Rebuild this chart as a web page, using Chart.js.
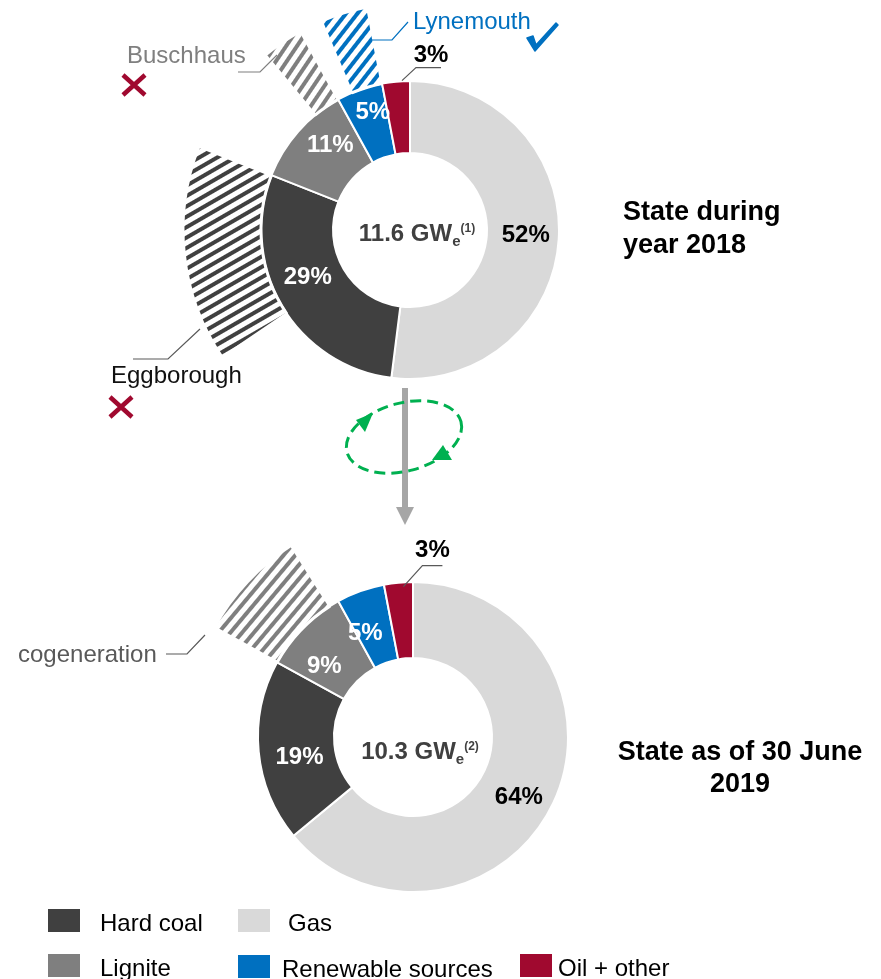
<!DOCTYPE html>
<html>
<head>
<meta charset="utf-8">
<script src="https://cdn.jsdelivr.net/npm/chart.js@4.4.1/dist/chart.umd.min.js"></script>
<style>
  body { margin: 0; background: #fff; }
  #page { position: relative; width: 881px; height: 979px; overflow: hidden; }
  canvas { position: absolute; left: 0; }
  #chart2018 { top: 0; }
  #chart2019 { top: 470px; }
  #overlay { position: absolute; left: 0; top: 0; pointer-events: none; }
  #overlay text { font-family: "Liberation Sans", Arial, sans-serif; }
</style>
</head>
<body>
<div id="page">
  <canvas id="chart2018" width="881" height="470"></canvas>
  <canvas id="chart2019" width="881" height="470"></canvas>
  <svg id="overlay" width="881" height="979" xmlns="http://www.w3.org/2000/svg">
    <!-- titles -->
    <text x="623" y="220" font-size="27" font-weight="bold">State during</text>
    <text x="623" y="253" font-size="27" font-weight="bold">year 2018</text>
    <text x="740" y="760" font-size="27" font-weight="bold" text-anchor="middle">State as of 30 June</text>
    <text x="740" y="792" font-size="27" font-weight="bold" text-anchor="middle">2019</text>

    <!-- plant callouts, 2018 -->
    <text x="127" y="63" font-size="24" fill="#7f7f7f">Buschhaus</text>
    <polyline points="238,72 260,72 277,55" fill="none" stroke="#7f7f7f" stroke-width="1.2"/>
    <path d="M123,75 L145,95 M145,75 L123,95" stroke="#a0092f" stroke-width="4.5"/>

    <text x="413" y="29" font-size="24" fill="#0070c0">Lynemouth</text>
    <polyline points="370,40 392,40 408,22" fill="none" stroke="#0070c0" stroke-width="1.2"/>
    <path d="M527,38 L533,36 L536,45 L556,23 L558,25 L535,51 Z" fill="#0070c0" stroke="#0070c0" stroke-width="1.5" stroke-linejoin="round"/>

    <text x="111" y="383" font-size="24" fill="#111">Eggborough</text>
    <polyline points="133,359 168,359 200,329" fill="none" stroke="#595959" stroke-width="1.2"/>
    <path d="M110,397 L132,417 M132,397 L110,417" stroke="#a0092f" stroke-width="4.5"/>

    <!-- transition arrow -->
    <rect x="402" y="388" width="6" height="120" fill="#a6a6a6"/>
    <polygon points="396,507 414,507 405,525" fill="#a6a6a6"/>
    <ellipse cx="404" cy="437" rx="59" ry="34" transform="rotate(-15 404 437)" fill="none"
             stroke="#00b050" stroke-width="3" stroke-dasharray="11 6"/>
    <polygon points="356,420 365,432 373,413" fill="#00b050"/>
    <polygon points="443,445 452,460 432,460" fill="#00b050"/>

    <!-- callout, 2019 -->
    <text x="18" y="662" font-size="24" fill="#595959">cogeneration</text>
    <polyline points="166,654 187,654 205,635" fill="none" stroke="#595959" stroke-width="1.2"/>

    <g id="legend"></g>
  </svg>
</div>

<script>
// Slice order, clockwise from 12 o'clock
const categories = ['Gas', 'Hard coal', 'Lignite', 'Renewable sources', 'Oil + other'];
const colors = ['#d9d9d9', '#404040', '#7f7f7f', '#0070c0', '#a0092f'];

// State during year 2018 (% of capacity)
const shares2018 = [52, 29, 11, 5, 3];
// part of each slice hatched on the outer ring (Eggborough, Buschhaus, Lynemouth)
const hatched2018 = [0, 15.5, 3, 3.4, 0];
const total2018 = '11.6';
const note2018 = '(1)';

// State as of 30 June 2019
const shares2019 = [64, 19, 9, 5, 3];
const hatched2019 = [0, 0, 8, 0, 0]; // cogeneration
const total2019 = '10.3';
const note2019 = '(2)';

// Legend order as laid out under the charts
const legendOrder = ['Hard coal', 'Gas', 'Lignite', 'Renewable sources', 'Oil + other'];

const FONT = '"Liberation Sans", Arial, sans-serif';
const NONE = 'rgba(0,0,0,0)';

// Striped fill for the hatched outer ring
function stripes(color, angle) {
  const tile = document.createElement('canvas');
  tile.width = 16;
  tile.height = 9;
  const t = tile.getContext('2d');
  t.fillStyle = color;
  t.fillRect(0, 0, 16, 4);
  const p = t.createPattern(tile, 'repeat');
  p.setTransform(new DOMMatrix().rotate(-angle));
  return p;
}

// Outer ring: each slice is split into a blank part and a hatched part
// (hatch at the end of the slice, or at its start when hatchFirst is set)
function outerRing(shares, hatched, angles, hatchFirst) {
  const data = [], bg = [], bw = [];
  shares.forEach((s, i) => {
    const blank = [s - hatched[i], NONE, 0];
    const hatch = [hatched[i], hatched[i] ? stripes(colors[i], angles[i]) : NONE, hatched[i] ? 3 : 0];
    const parts = hatchFirst ? [hatch, blank] : [blank, hatch];
    parts.forEach(([v, c, w]) => { data.push(v); bg.push(c); bw.push(w); });
  });
  return { data, backgroundColor: bg, borderColor: '#fff', borderWidth: bw };
}

// Percent labels + centre total
const sliceLabels = {
  id: 'sliceLabels',
  afterDatasetsDraw(chart, args, o) {
    const ctx = chart.ctx;
    const meta = chart.getDatasetMeta(1);
    const shares = chart.data.datasets[1].data;
    ctx.save();
    ctx.font = 'bold 24px ' + FONT;
    ctx.textAlign = 'center';
    ctx.textBaseline = 'middle';
    let cx = 0, cy = 0;
    meta.data.forEach((arc, i) => {
      const p = arc.getProps(['x', 'y', 'startAngle', 'endAngle', 'innerRadius', 'outerRadius'], true);
      cx = p.x; cy = p.y;
      const mid = (p.startAngle + p.endAngle) / 2;
      const txt = shares[i] + '%';
      if (i === o.outside) {
        const x0 = p.x + Math.cos(mid) * p.outerRadius;
        const y0 = p.y + Math.sin(mid) * p.outerRadius;
        const l = o.leader;
        ctx.strokeStyle = '#595959';
        ctx.lineWidth = 1.2;
        ctx.beginPath();
        ctx.moveTo(x0 + l[0], y0 + l[1]);
        ctx.lineTo(x0 + l[2], y0 + l[3]);
        ctx.lineTo(x0 + l[4], y0 + l[3]);
        ctx.stroke();
        ctx.fillStyle = '#000';
        ctx.textBaseline = 'alphabetic';
        ctx.fillText(txt, x0 + l[5], y0 + l[6]);
        ctx.textBaseline = 'middle';
      } else {
        const r = (p.innerRadius + p.outerRadius) / 2;
        ctx.fillStyle = o.textColors[i];
        ctx.fillText(txt, p.x + Math.cos(mid) * r + o.shift[i][0], p.y + Math.sin(mid) * r + o.shift[i][1]);
      }
    });

    // centre: "11.6 GW" + subscript e + superscript note
    const main = o.total + ' GW';
    ctx.textAlign = 'left';
    ctx.textBaseline = 'alphabetic';
    ctx.fillStyle = '#404040';
    ctx.font = 'bold 24px ' + FONT;
    const w1 = ctx.measureText(main).width;
    ctx.font = 'bold 15px ' + FONT;
    const w2 = ctx.measureText('e').width;
    ctx.font = 'bold 12px ' + FONT;
    const w3 = ctx.measureText(o.note).width;
    let x = cx + o.centre[0] - (w1 + w2 + w3) / 2;
    const y = cy + o.centre[1];
    ctx.font = 'bold 24px ' + FONT;
    ctx.fillText(main, x, y);
    x += w1;
    ctx.font = 'bold 15px ' + FONT;
    ctx.fillText('e', x, y + 5);
    x += w2;
    ctx.font = 'bold 12px ' + FONT;
    ctx.fillText(o.note, x, y - 9);
    ctx.restore();
  }
};

function makeChart(id, shares, hatched, hatchStyle, ring, labelOpts, padding) {
  const textColors = ['#000', '#fff', '#fff', '#fff', '#000'];
  return new Chart(document.getElementById(id), {
    type: 'doughnut',
    data: {
      labels: categories,
      datasets: [
        Object.assign(outerRing(shares, hatched, hatchStyle.angles, hatchStyle.first), { weight: ring.outer }),
        {
          data: shares,
          backgroundColor: colors,
          borderColor: '#fff',
          borderWidth: 2,
          weight: ring.inner
        }
      ]
    },
    options: {
      responsive: false,
      animation: false,
      events: [],
      radius: 227,
      cutout: (ring.hole / 227 * 100) + '%',
      layout: { padding },
      plugins: {
        legend: { display: false },
        tooltip: { enabled: false },
        sliceLabels: Object.assign({ textColors }, labelOpts)
      }
    },
    plugins: [sliceLabels]
  });
}

// 2018: centre (410,230), ring 77..149, hatch ring out to 227
makeChart('chart2018', shares2018, hatched2018,
  { angles: [0, 30, 56, 52, 0], first: false },
  { outer: 78, inner: 72, hole: 77 },
  {
    outside: 4,
    leader: [6, -1, 20, -14, 45, 35, -20],
    shift: [[3, -2], [-5, -10], [5, -10], [1, -11], [0, 0]],
    centre: [7, 11],
    total: total2018,
    note: note2018
  },
  { left: 0, right: 61, top: 0, bottom: 10 });

// 2019: centre (413,737), ring 79..155
makeChart('chart2019', shares2019, hatched2019,
  { angles: [0, 0, 50, 0, 0], first: true },
  { outer: 72, inner: 76, hole: 79 },
  {
    outside: 4,
    leader: [5, 4, 24, -17, 44, 34, -26],
    shift: [[0, 11], [3, 9], [-6, 12], [-8, 6], [0, 0]],
    centre: [7, 22],
    total: total2019,
    note: note2019
  },
  { left: 0, right: 55, top: 64, bottom: 0 });

// Legend
const legendPos = [[48, 909], [238, 909], [48, 954], [238, 955], [520, 954]];
const legendTextX = [100, 288, 100, 282, 558];
const svgNS = 'http://www.w3.org/2000/svg';
const lg = document.getElementById('legend');
legendOrder.forEach((name, k) => {
  const i = categories.indexOf(name);
  const [x, y] = legendPos[k];
  const r = document.createElementNS(svgNS, 'rect');
  r.setAttribute('x', x);
  r.setAttribute('y', y);
  r.setAttribute('width', 32);
  r.setAttribute('height', 23);
  r.setAttribute('fill', colors[i]);
  lg.appendChild(r);
  const t = document.createElementNS(svgNS, 'text');
  t.setAttribute('x', legendTextX[k]);
  t.setAttribute('y', y + 22);
  t.setAttribute('font-size', 24);
  t.textContent = name;
  lg.appendChild(t);
});
</script>
</body>
</html>
